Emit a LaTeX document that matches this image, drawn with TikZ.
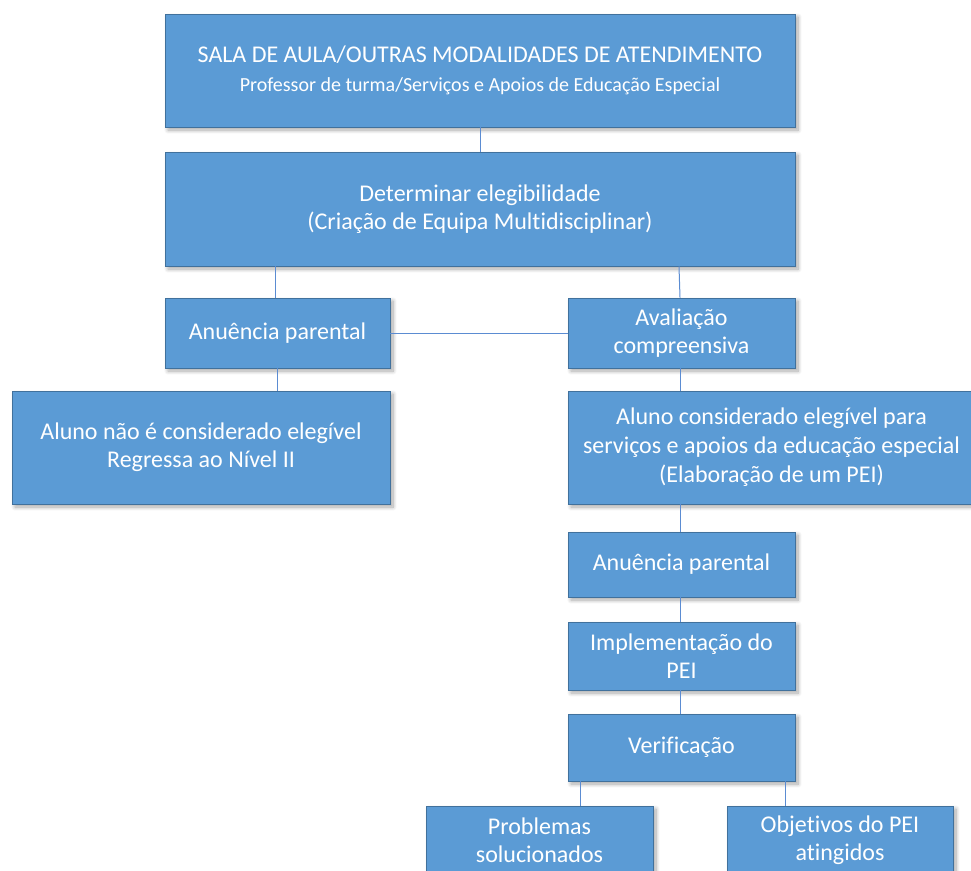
\documentclass[tikz,border=0pt]{standalone}
\usepackage{fontspec}
\setmainfont{Carlito}[Ligatures={NoCommon}]
\usetikzlibrary{shadows.blur,calc}
\definecolor{boxfill}{RGB}{91,155,213}
\definecolor{boxline}{RGB}{65,113,156}
\definecolor{conn}{RGB}{91,140,210}
\begin{document}
\begin{tikzpicture}[x=1pt,y=1pt,
  box/.style={draw=boxline,line width=0.9pt,fill=boxfill,text=white,align=center,
    inner sep=0pt,font=\fontsize{24}{29}\selectfont,
    blur shadow={shadow xshift=3pt,shadow yshift=-3pt,shadow blur steps=8,shadow blur radius=4pt,shadow opacity=35}},
  link/.style={draw=conn,line width=1pt}]
\useasboundingbox (0,0) rectangle (971,-870);
\node[box,minimum width=630,minimum height=113] (b1) at (480,-70.5)
  {SALA DE AULA/OUTRAS MODALIDADES DE ATENDIMENTO\\[0pt]{\fontsize{20}{23}\selectfont Professor de turma/Serviços e Apoios de Educação Especial}};
\node[box,minimum width=630,minimum height=114] (b2) at (480,-209)
  {Determinar elegibilidade\\[-1pt](Criação de Equipa Multidisciplinar)};
\node[box,minimum width=225,minimum height=70] (b3) at (277.5,-333) {Anuência parental};
\node[box,minimum width=227,minimum height=70] (b4) at (681.5,-333) {Avaliação\\[-1pt]compreensiva};
\node[box,minimum width=378,minimum height=113] (b5) at (201,-447.5)
  {Aluno não é considerado elegível\\[-1pt]Regressa ao Nível II};
\node[box,minimum width=407,minimum height=113] (b6) at (771.5,-447.5)
  {Aluno considerado elegível para\\serviços e apoios da educação especial\\(Elaboração de um PEI)};
\node[box,minimum width=227,minimum height=65] (b7) at (681.5,-564.5) {Anuência parental};
\node[box,minimum width=227,minimum height=68] (b8) at (681.5,-656) {Implementação do\\[-1pt]PEI};
\node[box,minimum width=227,minimum height=67] (b9) at (681.5,-747.5) {Verificação};
\node[box,minimum width=227,minimum height=69] (b10) at (539.5,-840.5) {Problemas\\[-1pt]solucionados};
\node[box,minimum width=226,minimum height=69] (b11) at (840,-840.5) {Objetivos do PEI\\[-1pt]atingidos};
\draw[link] (b1.south) -- (b2.north);
\draw[link] ([xshift=-2.5pt]b3.north) -- ([xshift=-2.5pt]b3.north |- b2.south);
\draw[link] ([xshift=-1.5pt]b4.north) -- ([xshift=-2.5pt]b4.north |- b2.south);
\draw[link] (b3.east) -- (b4.west);
\draw[link] ([xshift=-0.5pt]b3.south) -- ([xshift=-0.5pt]b3.south |- b5.north);
\draw[link] ([xshift=-1.5pt]b4.south) -- ([xshift=-1.5pt]b4.south |- b6.north);
\draw[link] ([xshift=-1.5pt]b7.north) -- ([xshift=-1.5pt]b7.north |- b6.south);
\draw[link] ([xshift=-1.5pt]b7.south) -- ([xshift=-1.5pt]b8.north);
\draw[link] ([xshift=-1.5pt]b8.south) -- ([xshift=-1.5pt]b9.north);
\draw[link] ([xshift=-101.5pt]b9.south) -- ([xshift=-101.5pt]b9.south |- b10.north);
\draw[link] ([xshift=103.5pt]b9.south) -- ([xshift=103.5pt]b9.south |- b11.north);
\end{tikzpicture}
\end{document}
